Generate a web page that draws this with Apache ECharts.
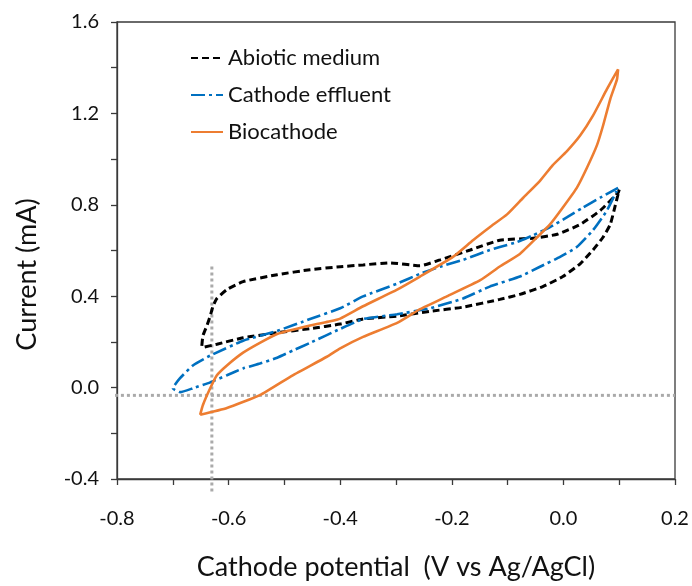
<!DOCTYPE html>
<html>
<head>
<meta charset="utf-8">
<script src="https://cdn.jsdelivr.net/npm/echarts@6/dist/echarts.min.js"></script>
<style>
  html, body { margin: 0; padding: 0; background: #fff; }
  #chart { width: 692px; height: 586px; }
</style>
</head>
<body>
<div id="chart"></div>
<script>
// Cyclic voltammograms: potential (V vs Ag/AgCl) and current (mA), each loop traced in order.
const abioticPotential = [-0.648, -0.646, -0.639, -0.633, -0.628, -0.621, -0.603, -0.574, -0.513, -0.454, -0.400, -0.359, -0.311, -0.257, -0.221, -0.167, -0.114, -0.054, -0.011, 0.030, 0.066, 0.098, 0.100,
  0.092, 0.084, 0.071, 0.053, 0.030, -0.001, -0.037, -0.078, -0.114, -0.180, -0.239, -0.298, -0.359, -0.400, -0.454, -0.513, -0.574, -0.621, -0.648];
const abioticCurrent = [0.183, 0.227, 0.270, 0.313, 0.356, 0.390, 0.429, 0.464, 0.494, 0.516, 0.529, 0.537, 0.546, 0.533, 0.559, 0.602, 0.645, 0.654, 0.671, 0.714, 0.775, 0.853, 0.866,
  0.788, 0.714, 0.658, 0.602, 0.542, 0.486, 0.442, 0.408, 0.386, 0.352, 0.334, 0.313, 0.300, 0.278, 0.258, 0.240, 0.218, 0.190, 0.175];

const effluentPotential = [0.098, 0.066, 0.035, 0.006, -0.024, -0.054, -0.083, -0.114, -0.132, -0.180, -0.221, -0.257, -0.298, -0.359, -0.400, -0.454, -0.513, -0.574, -0.633, -0.664, -0.687, -0.700,
  -0.687, -0.664, -0.633, -0.603, -0.574, -0.544, -0.513, -0.485, -0.454, -0.400, -0.359, -0.298, -0.239, -0.180, -0.132, -0.078, -0.042, -0.006, 0.024, 0.053, 0.078, 0.098];
const effluentCurrent = [0.874, 0.831, 0.788, 0.745, 0.702, 0.667, 0.637, 0.615, 0.602, 0.559, 0.529, 0.498, 0.455, 0.399, 0.347, 0.300, 0.248, 0.205, 0.140, 0.097, 0.041, -0.003,
  -0.020, -0.003, 0.023, 0.054, 0.084, 0.105, 0.131, 0.162, 0.196, 0.257, 0.300, 0.321, 0.347, 0.390, 0.442, 0.486, 0.529, 0.572, 0.615, 0.689, 0.775, 0.874];

const bioPotential = [-0.651, -0.646, -0.633, -0.621, -0.603, -0.574, -0.544, -0.513, -0.454, -0.418, -0.400, -0.359, -0.298, -0.257, -0.198, -0.162, -0.132, -0.101, -0.072, -0.042, -0.019, 0.006, 0.030, 0.053, 0.078, 0.098,
  0.096, 0.084, 0.071, 0.060, 0.042, 0.024, -0.001, -0.024, -0.047, -0.078, -0.114, -0.149, -0.209, -0.257, -0.298, -0.359, -0.400, -0.424, -0.485, -0.544, -0.603, -0.651];
const bioCurrent = [-0.119, -0.076, -0.003, 0.054, 0.097, 0.153, 0.196, 0.235, 0.272, 0.290, 0.302, 0.356, 0.429, 0.486, 0.572, 0.645, 0.702, 0.758, 0.831, 0.905, 0.974, 1.034, 1.103, 1.190, 1.306, 1.393,
  1.349, 1.263, 1.146, 1.060, 0.961, 0.874, 0.788, 0.714, 0.658, 0.585, 0.530, 0.470, 0.399, 0.343, 0.283, 0.222, 0.172, 0.135, 0.054, -0.033, -0.089, -0.119];

// Onset guide lines (dotted grey)
const onsetPotential = -0.63;
const onsetCurrent = -0.034;
const vGuidePotential = [onsetPotential, onsetPotential];
const vGuideCurrent = [0.53, -0.465];
const hGuidePotential = [-0.836, 0.2];
const hGuideCurrent = [onsetCurrent, onsetCurrent];

const seriesNames = ['Abiotic medium', 'Cathode effluent', 'Biocathode'];

const pairs = (xs, ys) => xs.map((x, i) => [x, ys[i]]);
const fmt = v => (Math.abs(v) < 1e-9 ? '0.0' : v.toFixed(1));

const FONT = 'Lato';
const INK = '#111';
const AXIS = '#3a3a3a';
const chart = echarts.init(document.getElementById('chart'), null, { renderer: 'canvas' });

chart.setOption({
  animation: false,
  textStyle: { fontFamily: FONT },
  grid: {
    left: 117, right: 17, top: 22, bottom: 101,
    show: true, borderColor: AXIS, borderWidth: 1.3, backgroundColor: 'transparent'
  },
  legend: {
    data: seriesNames,
    orient: 'vertical',
    left: 190, top: 47, padding: 0,
    itemWidth: 32, itemHeight: 14, itemGap: 15,
    itemStyle: { opacity: 0 },
    textStyle: { fontFamily: FONT, fontSize: 22, color: INK }
  },
  xAxis: {
    type: 'value', min: -0.8, max: 0.2, interval: 0.2,
    name: 'Cathode potential  (V vs Ag/AgCl)', nameLocation: 'middle', nameGap: 75,
    nameTextStyle: { fontFamily: FONT, fontSize: 27, color: INK },
    axisLine: { onZero: false, lineStyle: { color: AXIS, width: 1.3 } },
    axisTick: { show: true, inside: false, length: 6, lineStyle: { color: AXIS, width: 1.3 } },
    minorTick: { show: true, splitNumber: 2, length: 6, lineStyle: { color: AXIS, width: 1.3 } },
    splitLine: { show: false },
    axisLabel: { formatter: fmt, fontFamily: FONT, fontSize: 20, color: INK, margin: 30 }
  },
  yAxis: {
    type: 'value', min: -0.4, max: 1.6, interval: 0.4,
    name: 'Current (mA)', nameLocation: 'middle', nameGap: 76,
    nameTextStyle: { fontFamily: FONT, fontSize: 27, color: INK, padding: [0, 48, 0, 0] },
    axisLine: { onZero: false, lineStyle: { color: AXIS, width: 1.3 } },
    axisTick: { show: true, inside: false, length: 6, lineStyle: { color: AXIS, width: 1.3 } },
    minorTick: { show: true, splitNumber: 2, length: 6, lineStyle: { color: AXIS, width: 1.3 } },
    splitLine: { show: false },
    axisLabel: { formatter: fmt, fontFamily: FONT, fontSize: 20, color: INK, margin: 18 }
  },
  series: [
    {
      name: 'onset-v', type: 'line', data: pairs(vGuidePotential, vGuideCurrent),
      showSymbol: false, symbol: 'none', clip: false, silent: true, z: 1,
      lineStyle: { color: '#aaaaaa', width: 3, type: [3, 3] }
    },
    {
      name: 'onset-h', type: 'line', data: pairs(hGuidePotential, hGuideCurrent),
      showSymbol: false, symbol: 'none', clip: false, silent: true, z: 1,
      lineStyle: { color: '#aaaaaa', width: 3, type: [3, 3] }
    },
    {
      name: seriesNames[0], type: 'line', data: pairs(abioticPotential, abioticCurrent),
      symbol: 'none', showSymbol: false, z: 3, smooth: 0.15,
      color: '#000000',
      lineStyle: { color: '#000000', width: 3, type: [7, 4] }
    },
    {
      name: seriesNames[1], type: 'line', data: pairs(effluentPotential, effluentCurrent),
      symbol: 'none', showSymbol: false, z: 3, smooth: 0.15,
      color: '#0070C0',
      lineStyle: { color: '#0070C0', width: 2.6, type: [14, 4, 3, 4] }
    },
    {
      name: seriesNames[2], type: 'line', data: pairs(bioPotential, bioCurrent),
      symbol: 'none', showSymbol: false, z: 3, smooth: 0.15,
      color: '#ED7D31',
      lineStyle: { color: '#ED7D31', width: 2.6, type: 'solid' }
    }
  ]
});
</script>
</body>
</html>
